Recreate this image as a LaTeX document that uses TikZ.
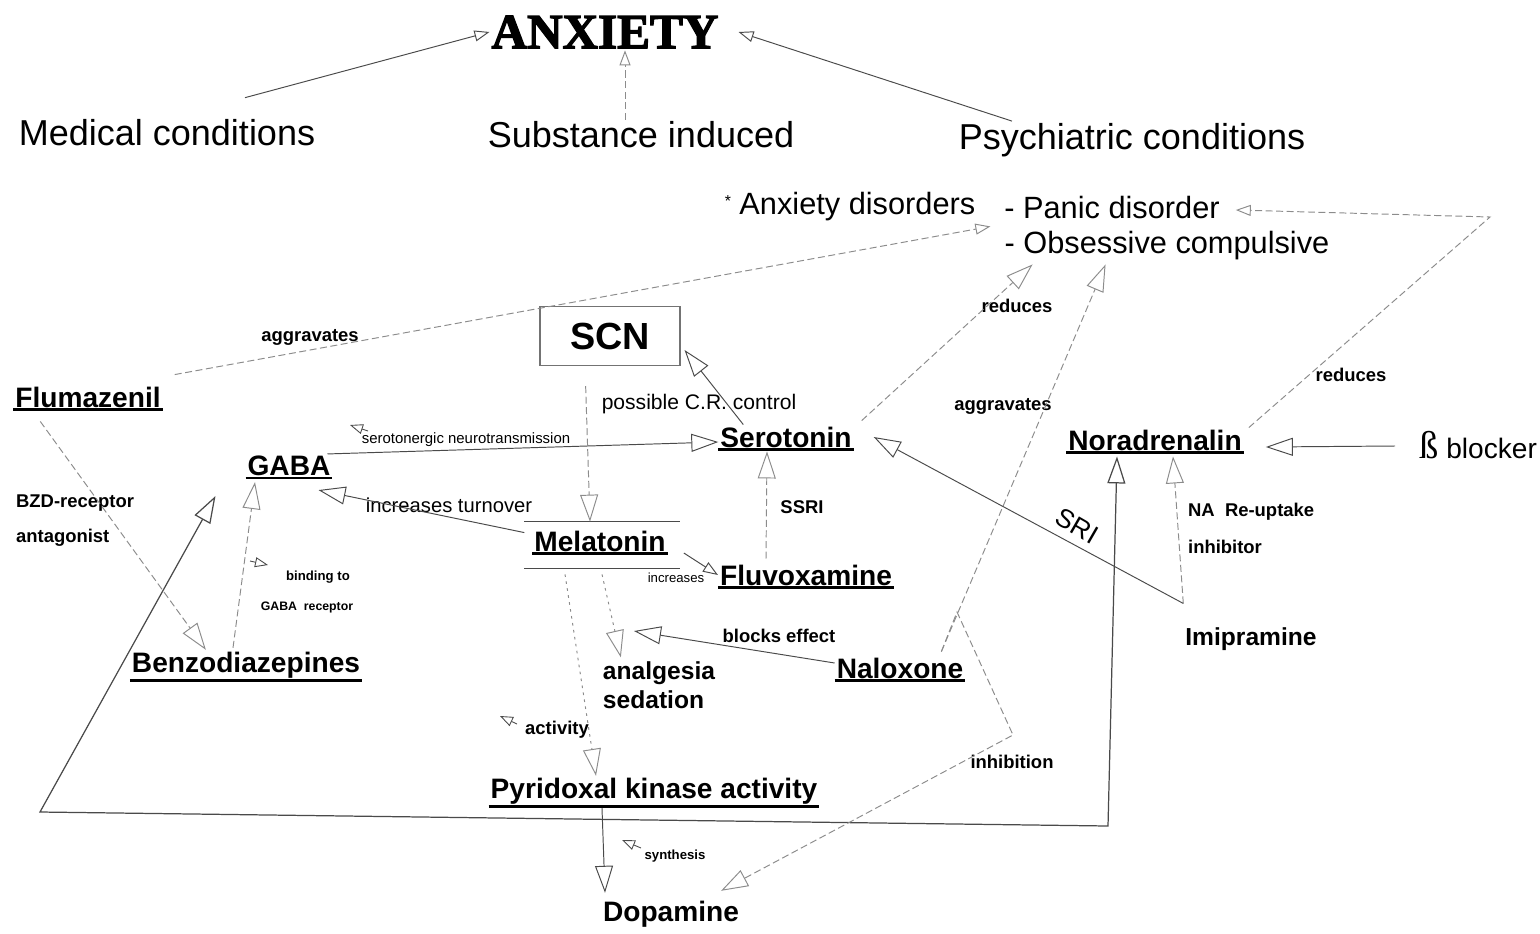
\documentclass[tikz,border=0pt]{standalone}
\usepackage{fontspec}
\setmainfont{Liberation Sans}
\newfontfamily\titlefont[BoldFeatures={FakeBold=2.5}]{Liberation Serif}
\newfontfamily\greekfont{Liberation Serif}
\usetikzlibrary{arrows.meta}
\definecolor{LineGray}{HTML}{4A4A4A}
\definecolor{FaintGray}{HTML}{8C8C8C}

\begin{document}
\begin{tikzpicture}[x=0.02cm, y=-0.02cm,
    every node/.style={inner sep=1pt},
    drug/.style={font=\bfseries\fontsize{16}{19}\selectfont,
      append after command={(\tikzlastnode.south west) edge[draw=black, line width=1.6pt] (\tikzlastnode.south east)}},
    cond/.style={font=\fontsize{20.5}{24}\selectfont},
    disorder/.style={font=\fontsize{17.5}{21}\selectfont},
    bigplain/.style={font=\bfseries\fontsize{14}{16.5}\selectfont},
    lbl/.style={font=\bfseries\fontsize{10.5}{12}\selectfont},
    smalllbl/.style={font=\bfseries\fontsize{7.5}{9}\selectfont},
    conn/.style={draw=LineGray, line width=0.55pt, -{Triangle[open,length=5.4mm,width=3.6mm]}},
    dconn/.style={conn, draw=FaintGray, dash pattern=on 4pt off 2pt},
    fconn/.style={conn, draw=FaintGray, dash pattern=on 1.5pt off 2.5pt},
    smallhead/.style={-{Triangle[open,length=3mm,width=2.2mm]}},
    dirmark/.style={draw=LineGray, line width=0.5pt, -{Triangle[open,length=2.6mm,width=2mm]}}
  ]
  \useasboundingbox (0,0) rectangle (1540,933);

  % Top level
  \node[font=\titlefont\bfseries\fontsize{28}{32}\selectfont] (anxiety) at (605,32) {ANXIETY};
  \node[cond] (medical) at (167,133) {Medical conditions};
  \node[cond] (substance) at (641,135) {Substance induced};
  \node[cond] (psych) at (1132,140) {Psychiatric conditions};
  \node[disorder] (anxdis) at (850,207) {\raisebox{5pt}{\fontsize{9}{9}\selectfont *} Anxiety disorders};
  \node[disorder] (panic) at (1112,208) {- Panic disorder};
  \node[disorder] (ocd) at (1167,246) {- Obsessive compulsive};

  % Substances and transmitters
  \node[draw=black!55, line width=0.6pt, minimum width=2.8cm, minimum height=1.18cm,
        font=\bfseries\fontsize{21.5}{24}\selectfont] (scn) at (610,336) {SCN};
  \node[drug] (flumazenil) at (88,397) {Flumazenil};
  \node[drug] (serotonin) at (786,437) {Serotonin};
  \node[drug] (gaba) at (289,466) {GABA};
  \node[drug] (noradrenalin) at (1155,440) {Noradrenalin};
  \node[font=\fontsize{16}{19}\selectfont] (bblocker) at (1478,445) {{\greekfont\fontsize{22}{24}\selectfont ß} blocker};
  \node[minimum width=3.1cm, minimum height=0.92cm] (melframe) at (602,545) {};
  \node[drug] (melatonin) at (600,541) {Melatonin};
  \node[drug] (fluvoxamine) at (806,575) {Fluvoxamine};
  \node[drug] (benzo) at (246,665) {Benzodiazepines};
  \node[drug] (naloxone) at (900,668) {Naloxone};
  \node[bigplain] (imipramine) at (1251,639) {Imipramine};
  \node[bigplain, align=left] (analgesia) at (659,685) {analgesia\\sedation};
  \node[drug] (pyridoxal) at (654,791) {Pyridoxal kinase activity};
  \node[bigplain, font=\bfseries\fontsize{16}{19}\selectfont] (dopamine) at (671,914) {Dopamine};

  % Melatonin frame
  \draw[LineGray, line width=0.6pt] (melframe.north west) -- (melframe.north east);
  \draw[LineGray, line width=0.6pt] (melframe.south west) -- (melframe.south east);

  % Labels
  \node[lbl] (aggr1) at (310,337) {aggravates};
  \node[font=\fontsize{12}{14}\selectfont] (crlbl) at (699,404) {possible C.R. control};
  \node[font=\fontsize{8.5}{10}\selectfont] (serlbl) at (466,440) {serotonergic neurotransmission};
  \node[lbl, anchor=west] (bzd1) at (14,503) {BZD-receptor};
  \node[lbl, anchor=west] (bzd2) at (14,538) {antagonist};
  \node[font=\fontsize{11.5}{14}\selectfont] (turnlbl) at (449,505) {increases turnover};
  \node[smalllbl] (bind1) at (318,577) {binding to};
  \node[smalllbl, font=\bfseries\fontsize{7}{9}\selectfont] (bind2) at (307,607) {GABA\ \ receptor};
  \node[lbl] (ssri) at (802,507) {SSRI};
  \node[font=\fontsize{7.5}{9}\selectfont] (incr) at (676,578) {increases};
  \node[lbl] (blocks) at (779,636) {blocks effect};
  \node[lbl] (activity) at (557,730) {activity};
  \node[smalllbl] (synth) at (675,856) {synthesis};
  \node[lbl] (inhib) at (1012,762) {inhibition};
  \node[lbl] (red1) at (1017,306) {reduces};
  \node[lbl] (aggr2) at (1003,406) {aggravates};
  \node[lbl] (red2) at (1351,375) {reduces};
  \node[font=\fontsize{15}{18}\selectfont, rotate=-30] (sri) at (1077,526) {SRI};
  \node[lbl, anchor=west] (na1) at (1186,512) {NA\ \ Re-uptake};
  \node[lbl, anchor=west] (na2) at (1186,547) {inhibitor};

  % Bends
  \coordinate (loopA) at (40,812);
  \coordinate (loopB) at (1108,826);
  \coordinate (napeak) at (957,612);
  \coordinate (nabend) at (1013,735);
  \coordinate (panicbend) at (1490,217);
  \coordinate (effect) at (634,631);

  % Arrows to ANXIETY
  \draw[conn, smallhead] ([shift={(78,-20)}]medical.north) -- (anxiety.west);
  \draw[dconn, smallhead] ([shift={(-16,0)}]substance.north) -- ([shift={(20,0)}]anxiety.south);
  \draw[conn, smallhead] ([shift={(-120,0)}]psych.north) -- ([shift={(18,0)}]anxiety.east);

  % Flumazenil
  \draw[dconn, smallhead] ([shift={(12,-10)}]flumazenil.north east) -- ([shift={(13,3)}]anxdis.south east);
  \draw[dconn] ([shift={(27,12)}]flumazenil.south west) -- ([shift={(76,0)}]benzo.north west);

  % SCN, GABA, Serotonin
  \draw[dconn, shorten <=0.4cm] ([shift={(-25,0)}]scn.south) -- ([shift={(-12,0)}]melframe.north);
  \draw[conn] ([shift={(25,0)}]serotonin.north west) -- ([shift={(4,14)}]scn.east);
  \draw[conn] ([shift={(-5,0)}]gaba.north east) -- ([shift={(0,5)}]serotonin.west);
  \draw[conn] ([shift={(-8,4)}]melatonin.north west) -- ([shift={(-14,12)}]gaba.south east);
  \draw[dconn] ([shift={(-13,-2)}]benzo.north) -- ([shift={(-34,4)}]gaba.south);
  \draw[conn, line width=0.7pt, {Triangle[open,length=5.4mm,width=3.6mm]}-{Triangle[open,length=5.4mm,width=3.6mm]}]
    ([shift={(-30,30)}]gaba.west) -- (loopA) -- (loopB) -- ([shift={(-38,4)}]noradrenalin.south);

  % Noradrenalin
  \draw[dconn, smallhead] ([shift={(5,0)}]noradrenalin.north east) -- (panicbend) -- ([shift={(14,2)}]panic.east);
  \draw[conn] ([shift={(-22,1)}]bblocker.west) -- ([shift={(22,7)}]noradrenalin.east);
  \draw[dconn] ([shift={(0,-22)}]imipramine.north west) -- ([shift={(18,4)}]noradrenalin.south);
  \draw[conn] ([shift={(0,-22)}]imipramine.north west) -- ([shift={(20,0)}]serotonin.east);

  % Serotonin and Fluvoxamine
  \draw[dconn] ([shift={(8,-4)}]serotonin.north east) -- ([shift={(30,2)}]ocd.south west);
  \draw[dconn] ([shift={(-40,-4)}]fluvoxamine.north) -- ([shift={(-19,2)}]serotonin.south);
  \draw[conn, smallhead] ([shift={(4,8)}]melframe.east) -- (fluvoxamine.west);

  % Naloxone
  \draw[dconn] ([shift={(-24,-4)}]naloxone.north east) -- ([shift={(103,2)}]ocd.south west);
  \draw[dconn] ([shift={(-24,-4)}]naloxone.north east) -- (napeak) -- (nabend) -- ([shift={(-20,-8)}]dopamine.north east);
  \draw[conn] ([shift={(0,-5)}]naloxone.west) -- (effect);

  % Melatonin downstream
  \draw[fconn] ([shift={(0,6)}]melframe.south) -- ([shift={(20,-2)}]analgesia.north west);
  \draw[fconn] ([shift={(-37,6)}]melframe.south) -- ([shift={(-58,0)}]pyridoxal.north);
  \draw[conn] ([shift={(-52,2)}]pyridoxal.south) -- ([shift={(-66,-6)}]dopamine.north);

  % Direction marks beside labels
  \draw[dirmark] (368,431) -- (350,425);
  \draw[dirmark] (250,561) -- (268,565);
  \draw[dirmark] (517,724) -- (500,716);
  \draw[dirmark] (641,848) -- (622,840);
\end{tikzpicture}
\end{document}
